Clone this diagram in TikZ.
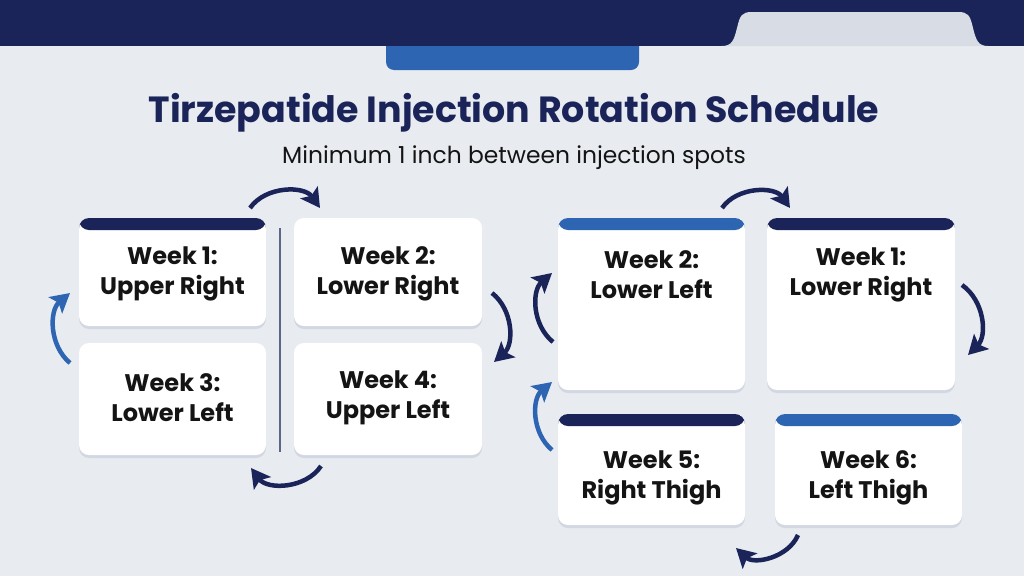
\documentclass[tikz,border=0pt]{standalone}
\usepackage{fontspec}
\setmainfont{Poppins}
\usetikzlibrary{arrows.meta,positioning,shadows}
\definecolor{navyband}{HTML}{1A2459}
\definecolor{tabblue}{HTML}{2D65B2}
\definecolor{pagebg}{HTML}{E8ECF1}
\definecolor{tabgrey}{HTML}{D8DDE5}
\definecolor{cardink}{HTML}{141414}
\definecolor{rulegrey}{HTML}{5C6785}

\begin{document}
\begin{tikzpicture}[x=1pt, y=-1pt,
    card/.style={fill=white, rounded corners=10pt, inner sep=0pt,
      drop shadow={shadow xshift=0pt, shadow yshift=-3pt, opacity=0.10, fill=navyband}},
    navybar/.style={path picture={\fill[navyband] (path picture bounding box.north west) rectangle ([yshift=-12pt]path picture bounding box.north east);}},
    bluebar/.style={path picture={\fill[tabblue] (path picture bounding box.north west) rectangle ([yshift=-12pt]path picture bounding box.north east);}},
    weektext/.style={font=\fontsize{24}{30}\selectfont\bfseries, text=cardink, align=center},
    turn/.style={draw=navyband, line width=4.5pt, -{Stealth[length=19pt,width=21pt,inset=4pt]}},
    blueturn/.style={turn, draw=tabblue}]

        % Page and header
        \useasboundingbox (0,0) rectangle (1024,576);
        \fill[pagebg] (0,0) rectangle (1024,576);
        \fill[tabblue, rounded corners=8pt] (386,30) rectangle (639,70);
        \fill[navyband] (0,0) rectangle (1024,46);
        \fill[tabgrey] (722,46) .. controls (732,46) and (734,40) .. (737,28)
            .. controls (740,15) and (742,12) .. (752,12) -- (958,12)
            .. controls (968,12) and (970,15) .. (973,28)
            .. controls (976,40) and (978,46) .. (988,46) -- cycle;

        % Title
        \node[font=\fontsize{36.4}{40}\selectfont\bfseries, text=navyband] (title) at (514,113) {Tirzepatide Injection Rotation Schedule};
        \node[font=\fontsize{23.4}{28}\selectfont, text=cardink] (subtitle) at (514,158) {Minimum 1 inch between injection spots};

        % Abdomen cards (left)
        \node[card, navybar, minimum width=187pt, minimum height=108pt] (w1) at (172.5,272) {};
        \node[card, minimum width=188pt, minimum height=108pt] (w2) at (388,272) {};
        \node[card, minimum width=187pt, minimum height=112pt] (w3) at (172.5,399) {};
        \node[card, minimum width=188pt, minimum height=112pt] (w4) at (388,399) {};
        \draw[rulegrey, line width=1.2pt] (280,228) -- (280,452);

        \node[weektext] (t1) at (172.5,274) {Week 1:\\Upper Right};
        \node[weektext] (t2) at (388,274) {Week 2:\\Lower Right};
        \node[weektext] (t3) at (172.5,398) {Week 3:\\Lower Left};
        \node[weektext] (t4) at (388,398) {Week 4:\\Upper Left};

        % Rotation cards (right)
        \node[card, bluebar, minimum width=187pt, minimum height=172pt] (r2) at (651.5,304) {};
        \node[card, navybar, minimum width=188pt, minimum height=172pt] (r1) at (861,304) {};
        \node[card, navybar, minimum width=187pt, minimum height=111pt] (r5) at (651.5,469.5) {};
        \node[card, bluebar, minimum width=187pt, minimum height=111pt] (r6) at (868.5,469.5) {};

        \node[weektext] (tr2) at (651.5,275) {Week 2:\\Lower Left};
        \node[weektext] (tr1) at (861,275) {Week 1:\\Lower Right};
        \node[weektext] (tr5) at (651.5,478) {Week 5:\\Right Thigh};
        \node[weektext] (tr6) at (868.5,478) {Week 6:\\Left Thigh};

        % Arrow ends
        \coordinate (la) at (250,208);  \coordinate (lb) at (320,208);
        \coordinate (lc) at (492,293);  \coordinate (ld) at (494,362);
        \coordinate (le) at (321,466);  \coordinate (lf) at (251,468);
        \coordinate (lg) at (70,363);   \coordinate (lh) at (70,293);
        \coordinate (ra) at (722,208);  \coordinate (rb) at (790,208);
        \coordinate (rc) at (962,285);  \coordinate (rd) at (968,355);
        \coordinate (re) at (798,535);  \coordinate (rf) at (736,548);
        \coordinate (rg) at (552,450);  \coordinate (rh) at (552,382);
        \coordinate (ri) at (553,342);  \coordinate (rj) at (552,273);

        % Rotation arrows
        \draw[turn] (la) to[bend left=55] (lb);
        \draw[turn] (lc) to[bend left=50] (ld);
        \draw[turn] (le) to[bend left=55] (lf);
        \draw[blueturn] (lg) to[bend left=50] (lh);
        \draw[turn] (ra) to[bend left=55] (rb);
        \draw[turn] (rc) to[bend left=50] (rd);
        \draw[turn] (re) to[bend left=55] (rf);
        \draw[blueturn] (rg) to[bend left=50] (rh);
        \draw[turn] (ri) to[bend left=50] (rj);
    \end{tikzpicture}
\end{document}
